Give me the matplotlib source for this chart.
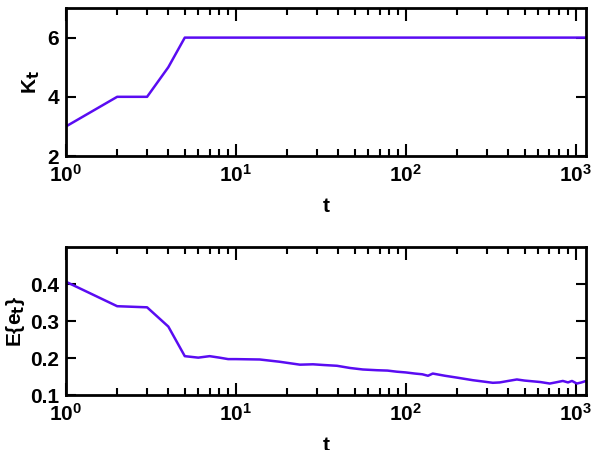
import matplotlib
matplotlib.use("Agg")
import matplotlib.pyplot as plt
from matplotlib.ticker import LogLocator, NullFormatter

plt.rcParams["font.family"] = ["Liberation Sans", "DejaVu Sans"]
plt.rcParams["font.weight"] = "bold"
plt.rcParams["mathtext.default"] = "bf"

# top panel: number of components K_t
t_k = [1, 2, 3, 4, 5, 10, 100, 1150]
k_vals = [3, 4, 4, 5, 6, 6, 6, 6]

# bottom panel: mean error E{e_t}
t_e = [1, 2, 3, 4, 5, 6, 7, 8, 9, 10, 13.8, 18, 23.8, 28.4, 33, 39.3, 47, 55.8,
       67.5, 78, 88.5, 100, 113, 125, 135, 144, 170, 200, 248, 290, 325, 357,
       400, 450, 500, 558, 620, 703, 760, 839, 900, 950, 1014, 1080, 1150]
e_vals = [0.406, 0.340, 0.337, 0.285, 0.205, 0.201, 0.205, 0.201, 0.197, 0.197,
          0.196, 0.190, 0.182, 0.183, 0.181, 0.179, 0.173, 0.169, 0.167, 0.166,
          0.163, 0.161, 0.158, 0.156, 0.152, 0.158, 0.152, 0.147, 0.140, 0.136,
          0.133, 0.134, 0.138, 0.142, 0.139, 0.137, 0.135, 0.131, 0.134, 0.138,
          0.134, 0.138, 0.131, 0.134, 0.138]

LINE = "#5a0cf2"
XMAX = 1150

fig = plt.figure(figsize=(5.91, 4.5), dpi=100)
ax1 = fig.add_axes([0.1117, 0.6533, 0.88, 0.3289])
ax2 = fig.add_axes([0.1117, 0.1222, 0.88, 0.3289])


def style(ax):
    ax.set_xscale("log")
    ax.set_xlim(1, XMAX)
    ax.xaxis.set_major_locator(LogLocator(base=10, numticks=10))
    ax.xaxis.set_minor_locator(LogLocator(base=10, subs=range(2, 10), numticks=10))
    ax.xaxis.set_minor_formatter(NullFormatter())
    ax.tick_params(which="both", direction="in", top=True, right=True,
                   labelsize=15, width=1.5)
    ax.tick_params(axis="x", which="major", length=9, pad=6)
    ax.tick_params(axis="x", which="minor", length=5)
    ax.tick_params(axis="y", which="major", length=7, pad=5)
    for s in ax.spines.values():
        s.set_linewidth(2)
    ax.set_xlabel("t", fontsize=15, fontweight="bold", labelpad=8)


ax1.plot(t_k, k_vals, color=LINE, linewidth=1.8)
style(ax1)
ax1.set_ylim(2, 7)
ax1.set_yticks([2, 4, 6])
ax1.set_ylabel("K$_t$", fontsize=15, fontweight="bold", labelpad=4)

ax2.plot(t_e, e_vals, color=LINE, linewidth=1.8)
style(ax2)
ax2.set_ylim(0.1, 0.5)
ax2.set_yticks([0.1, 0.2, 0.3, 0.4])
ax2.set_ylabel("E{e$_t$}", fontsize=15, fontweight="bold", labelpad=2)

fig.savefig("out.png", dpi=100)
